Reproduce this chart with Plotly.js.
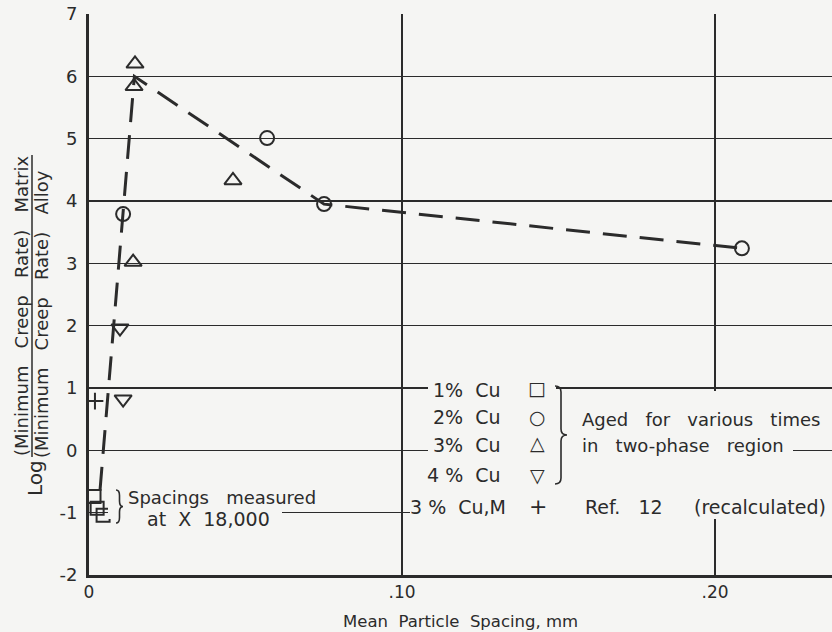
<!DOCTYPE html>
<html>
<head>
<meta charset="utf-8">
<script src="https://cdn.plot.ly/plotly-3.0.1.min.js"></script>
<style>html,body{margin:0;padding:0;background:#f5f5f3;}#chart{width:832px;height:632px;}</style>
</head>
<body>
<div id="chart"></div>
<script>
// ---- data ----
const cu1X = [0.0016, 0.0026, 0.0045];
const cu1Y = [-0.74, -0.93, -1.04];
const cu2X = [0.0109, 0.0569, 0.0751, 0.2086];
const cu2Y = [3.79, 5.01, 3.95, 3.24];
const cu3X = [0.0147, 0.0144, 0.0460, 0.0141];
const cu3Y = [6.20, 5.84, 4.33, 3.02];
const cu4X = [0.0099, 0.0109];
const cu4Y = [1.96, 0.82];
const cu3mX = [0.0019];
const cu3mY = [0.79];
const curveX = [0.0035, 0.0145, 0.0751, 0.2086];
const curveY = [-0.65, 6.0, 3.95, 3.24];
const xTickVals = [0, 0.1, 0.2];
const xTickText = ["0", ".10", ".20"];
const yTickVals = [-2, -1, 0, 1, 2, 3, 4, 5, 6, 7];
const yTickText = ["-2", "-1", "0", "1", "2", "3", "4", "5", "6", "7"];

// ---- layout helpers ----
const W = 832, H = 632, L = 89, R = 0, T = 14, B = 57;
const PW = W - L - R, PH = H - T - B;
const PX = x => (x - L) / PW;
const PY = y => (H - B - y) / PH;
const INK = "#2b2b2b";
const BG = "#f5f5f3";
const FONT = "DejaVu Sans";
const S = "\u00a0";
const S2 = S + S, S3 = S + S + S;

function ann(text, x, y, xanchor, size, extra) {
  return Object.assign({text: text, xref: "paper", yref: "paper", x: PX(x), y: PY(y),
    xanchor: xanchor || "center", yanchor: "middle", showarrow: false,
    font: {family: FONT, size: size || 18, color: INK}}, extra || {});
}
function braceShape(x, yTop, yBot, w) {
  const mid = (yTop + yBot) / 2, r = Math.min(6, (yBot - yTop) / 6), h = w / 2;
  const p = (a, b) => PX(a) + "," + PY(b);
  const d = "M" + p(x, yTop) + " Q" + p(x + h, yTop) + " " + p(x + h, yTop + r) +
    " L" + p(x + h, mid - r) + " Q" + p(x + h, mid) + " " + p(x + w, mid) +
    " Q" + p(x + h, mid) + " " + p(x + h, mid + r) + " L" + p(x + h, yBot - r) +
    " Q" + p(x + h, yBot) + " " + p(x, yBot);
  return {type: "path", xref: "paper", yref: "paper", path: d, line: {color: INK, width: 1.6}};
}
function cover(x0, y0, x1, y1) {
  return {type: "rect", xref: "paper", yref: "paper", x0: PX(x0), x1: PX(x1), y0: PY(y1), y1: PY(y0),
    fillcolor: BG, line: {width: 0}, layer: "above"};
}

const mk = (sym, size) => ({symbol: sym, size: size, color: INK, line: {color: INK, width: 2}});

const traces = [
  {x: curveX, y: curveY, mode: "lines", line: {color: INK, width: 3, dash: "24px,13px"}, hoverinfo: "skip"},
  {x: cu1X, y: cu1Y, mode: "markers", name: "1% Cu", marker: mk("square-open", 13)},
  {x: cu2X, y: cu2Y, mode: "markers", name: "2% Cu", marker: mk("circle-open", 14)},
  {x: cu3X, y: cu3Y, mode: "markers", name: "3% Cu", marker: mk("triangle-up-open", 15)},
  {x: cu4X, y: cu4Y, mode: "markers", name: "4% Cu", marker: mk("triangle-down-open", 15)},
  {x: cu3mX, y: cu3mY, mode: "markers", name: "3% Cu,M", marker: mk("cross-thin-open", 12)}
];

const layout = {
  width: W, height: H,
  margin: {l: L, r: R, t: T, b: B},
  paper_bgcolor: BG, plot_bgcolor: BG,
  showlegend: false,
  xaxis: {range: [0, PW / 3130], tickvals: xTickVals, ticktext: xTickText, showgrid: true,
    gridcolor: INK, gridwidth: 1.3, zeroline: false, showline: true, linecolor: INK, linewidth: 3,
    ticks: "", ticklabelstandoff: 0, tickfont: {family: FONT, size: 17, color: INK}},
  yaxis: {range: [-2, 7], tickvals: yTickVals, ticktext: yTickText, showgrid: true,
    gridcolor: INK, gridwidth: 1.3, zeroline: false, showline: true, linecolor: INK, linewidth: 3,
    ticks: "", ticklabelstandoff: 5, tickfont: {family: FONT, size: 18, color: INK}},
  shapes: [
    cover(108, 505, 282, 519),
    cover(428, 380, 556, 394),
    cover(428, 442, 793, 456),
    cover(410, 505, 832, 519),
    cover(705, 391, 725, 517),
    braceShape(555, 386, 484, 12),
    braceShape(116, 490, 523, 7),
    {type: "line", xref: "paper", yref: "paper", x0: PX(32), x1: PX(32), y0: PY(155), y1: PY(457),
      line: {color: INK, width: 1.5}}
  ],
  annotations: [
    ann("Mean" + S2 + "Particle" + S2 + "Spacing," + S + "mm", 460, 621, "center", 16.5),
    ann("Log", 35, 478, "center", 20, {textangle: -90}),
    ann("(Minimum" + S3 + "Creep" + S3 + "Rate)" + S3 + "Matrix", 21, 306, "center", 18, {textangle: -90}),
    ann("(Minimum" + S3 + "Creep" + S3 + "Rate)" + S3 + "Alloy", 42, 314, "center", 18, {textangle: -90}),
    ann("1%" + S2 + "Cu", 503, 390, "right", 19),
    ann("2%" + S2 + "Cu", 503, 417, "right", 19),
    ann("3%" + S2 + "Cu", 503, 445, "right", 19),
    ann("4" + S + "%" + S2 + "Cu", 503, 475, "right", 19),
    ann("3" + S + "%" + S2 + "Cu,M", 508, 507, "right", 19),
    ann("\u25a1", 537, 388, "center", 19),
    ann("\u25cb", 537, 417, "center", 19),
    ann("\u25b3", 537, 443, "center", 19),
    ann("\u25bd", 537, 475, "center", 19),
    ann("+", 538, 506, "center", 22),
    ann("Aged" + S3 + "for" + S3 + "various" + S3 + "times", 580, 419, "left", 18),
    ann("in" + S3 + "two-phase" + S3 + "region", 580, 445, "left", 18),
    ann("Ref." + S3 + "12", 583, 507, "left", 19),
    ann("(recalculated)", 692, 507, "left", 19),
    ann("Spacings" + S3 + "measured", 126, 497, "left", 18),
    ann("at" + S2 + "X" + S2 + "18,000", 145, 519, "left", 19)
  ]
};

Plotly.newPlot("chart", traces, layout, {displayModeBar: false, staticPlot: true});
</script>
</body>
</html>
